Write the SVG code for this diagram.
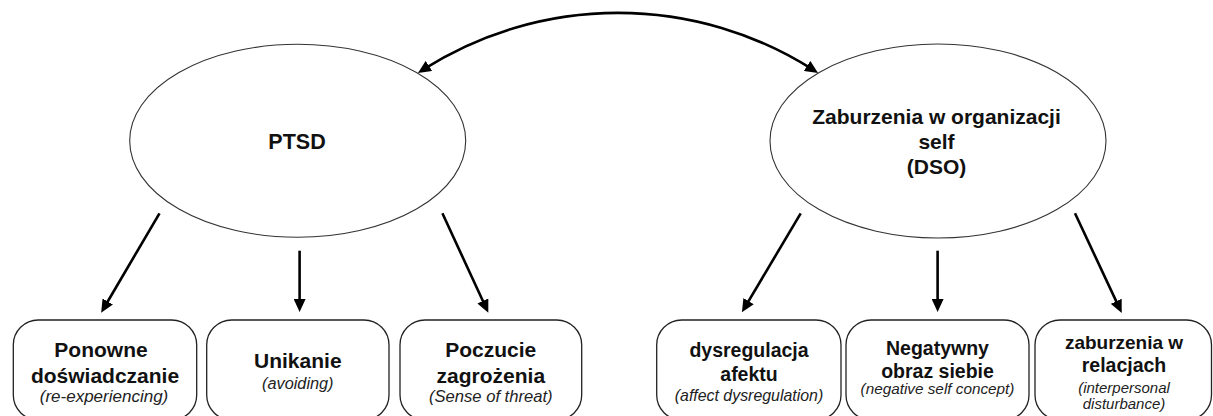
<svg xmlns="http://www.w3.org/2000/svg" width="1213" height="416" viewBox="0 0 1213 416">
  <style>
    .ell { fill: #ffffff; stroke: #333333; stroke-width: 1.1; }
    .box { fill: #ffffff; stroke: #222222; stroke-width: 1.3; }
    .b { font-family: "Liberation Sans", Arial, sans-serif; font-weight: bold; fill: #111111; text-anchor: middle; }
    .i { font-family: "Liberation Sans", Arial, sans-serif; font-style: italic; fill: #222222; text-anchor: middle; }
    .con { fill: none; stroke: #000000; stroke-width: 2.6; }
  </style>
  <defs>
    <marker id="ah" viewBox="0 0 13 12" refX="7" refY="6" markerWidth="13" markerHeight="12" markerUnits="userSpaceOnUse" orient="auto-start-reverse">
      <path d="M0,0 L13,6 L0,12 z" fill="#000000"/>
    </marker>
  </defs>
  <rect width="1213" height="416" fill="#ffffff"/>

  <g id="ptsd">
    <ellipse class="ell" cx="297.7" cy="140.8" rx="168" ry="96.5"/>
    <text class="b" x="297" y="149" font-size="21.5">PTSD</text>
  </g>

  <g id="dso">
    <ellipse class="ell" cx="938" cy="141" rx="168" ry="97"/>
    <text class="b" x="936.5" y="124" font-size="21">Zaburzenia w organizacji</text>
    <text class="b" x="936.5" y="149" font-size="21">self</text>
    <text class="b" x="936.5" y="174" font-size="21">(DSO)</text>
  </g>

  <g id="box-ponowne">
    <rect class="box" x="13.3" y="320" width="183.4" height="100" rx="25"/>
    <text class="b" x="101" y="357" font-size="21">Ponowne</text>
    <text class="b" x="105" y="383" font-size="21">doświadczanie</text>
    <text class="i" x="104" y="402" font-size="17">(re-experiencing)</text>
  </g>

  <g id="box-unikanie">
    <rect class="box" x="206.7" y="320" width="182.3" height="100" rx="25"/>
    <text class="b" x="297.8" y="368" font-size="21">Unikanie</text>
    <text class="i" x="297.8" y="389" font-size="16.3">(avoiding)</text>
  </g>

  <g id="box-poczucie">
    <rect class="box" x="400" y="320" width="181.7" height="100" rx="25"/>
    <text class="b" x="490.8" y="357" font-size="21">Poczucie</text>
    <text class="b" x="490.8" y="382.5" font-size="21">zagrożenia</text>
    <text class="i" x="490.8" y="402" font-size="16.6">(Sense of threat)</text>
  </g>

  <g id="box-dysregulacja">
    <rect class="box" x="656.7" y="320" width="184.3" height="100" rx="25"/>
    <text class="b" x="749" y="357" font-size="19.5">dysregulacja</text>
    <text class="b" x="749" y="381" font-size="19.5">afektu</text>
    <text class="i" x="749" y="400.5" font-size="15.9">(affect dysregulation)</text>
  </g>

  <g id="box-negatywny">
    <rect class="box" x="846" y="320" width="183" height="100" rx="25"/>
    <text class="b" x="937.5" y="355" font-size="19.5">Negatywny</text>
    <text class="b" x="937.5" y="377.5" font-size="19.5">obraz siebie</text>
    <text class="i" x="937.5" y="394" font-size="15.3">(negative self concept)</text>
  </g>

  <g id="box-zaburzenia">
    <rect class="box" x="1035" y="320" width="176.5" height="100" rx="25"/>
    <text class="b" x="1124" y="348.5" font-size="19">zaburzenia w</text>
    <text class="b" x="1124" y="372" font-size="19.5">relacjach</text>
    <text class="i" x="1124" y="392.5" font-size="15">(interpersonal</text>
    <text class="i" x="1124" y="409" font-size="15">disturbance)</text>
  </g>

  <g id="connectors">
    <path class="con" d="M 423 69.7 A 363 363 0 0 1 813 69.7" marker-start="url(#ah)" marker-end="url(#ah)"/>
    <path class="con" d="M 159.5 213.3 L 104.2 307.5" marker-end="url(#ah)"/>
    <path class="con" d="M 299.6 250.7 L 299.6 306" marker-end="url(#ah)"/>
    <path class="con" d="M 442.4 213.3 L 485.8 307.3" marker-end="url(#ah)"/>
    <path class="con" d="M 800.7 213.3 L 745 307.1" marker-end="url(#ah)"/>
    <path class="con" d="M 937.6 250.7 L 937.6 306" marker-end="url(#ah)"/>
    <path class="con" d="M 1075 213.3 L 1119.2 307.6" marker-end="url(#ah)"/>
  </g>
</svg>
